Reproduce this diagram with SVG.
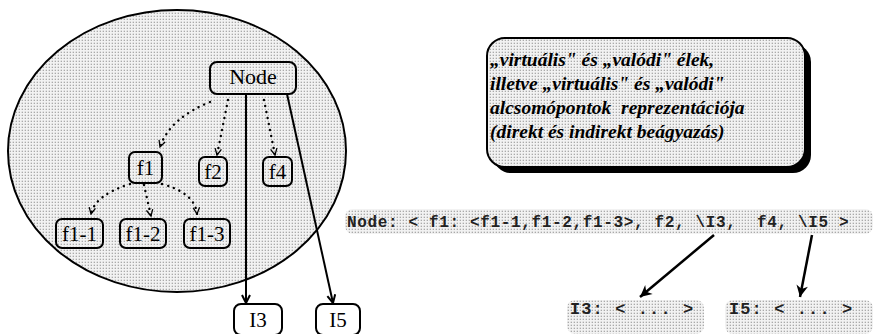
<svg xmlns="http://www.w3.org/2000/svg" width="873" height="334" viewBox="0 0 873 334">
  <defs>
    <pattern id="dots" width="3" height="3" patternUnits="userSpaceOnUse">
      <rect width="3" height="3" fill="#f2f2f2"/>
      <rect x="0.7" y="0.7" width="1.2" height="1.2" fill="#999"/>
    </pattern>
    <marker id="solid" viewBox="0 0 10 10" refX="9" refY="5" markerWidth="10" markerHeight="10" markerUnits="userSpaceOnUse" orient="auto">
      <path d="M1,1 L9,5 L1,9" fill="none" stroke="#000" stroke-width="2"/>
    </marker>
    <marker id="open" viewBox="0 0 10 10" refX="9" refY="5" markerWidth="8" markerHeight="8" markerUnits="userSpaceOnUse" orient="auto">
      <path d="M1,1 L9,5 L1,9" fill="none" stroke="#000" stroke-width="1.6"/>
    </marker>
    <marker id="big" viewBox="0 0 12 12" refX="11" refY="6" markerWidth="14" markerHeight="14" markerUnits="userSpaceOnUse" orient="auto">
      <path d="M1,1 L11,6 L1,11 L4,6 Z" fill="#000"/>
    </marker>
  </defs>
  <style>
    .box { fill: url(#dots); stroke: #000; stroke-width: 2; }
    .wbox { fill: #fff; stroke: #000; stroke-width: 2; }
    .lbl { font-family: "Liberation Serif", serif; font-size: 21px; text-anchor: middle; fill: #000; }
    .code { font-family: "Liberation Mono", monospace; font-size: 16px; font-weight: bold; fill: #222; letter-spacing: 0.65px; white-space: pre; }
    .code2 { font-family: "Liberation Mono", monospace; font-size: 17px; font-weight: bold; fill: #222; letter-spacing: 1.1px; white-space: pre; }
    .note { font-family: "Liberation Serif", serif; font-size: 19.5px; font-weight: bold; font-style: italic; fill: #000; white-space: pre; }
    .dot { fill: none; stroke: #000; stroke-width: 2.4; stroke-dasharray: 0.1 6; stroke-linecap: round; }
    .edge { fill: none; stroke: #000; stroke-width: 2; }
    .edge2 { fill: none; stroke: #000; stroke-width: 2.5; }
  </style>

  <!-- enclosing region -->
  <ellipse cx="177" cy="151" rx="169" ry="141" fill="url(#dots)" stroke="#000" stroke-width="2"/>

  <!-- tree nodes -->
  <g id="node-root"><rect class="box" x="210" y="62" width="86" height="32" rx="7"/><text class="lbl" x="253" y="84" style="font-size:22px">Node</text></g>
  <g id="node-f1"><rect class="box" x="129" y="152" width="33" height="31" rx="6"/><text class="lbl" x="145.5" y="175">f1</text></g>
  <g id="node-f2"><rect class="box" x="199" y="157" width="28" height="29" rx="6"/><text class="lbl" x="213" y="179">f2</text></g>
  <g id="node-f4"><rect class="box" x="263" y="157" width="29" height="29" rx="6"/><text class="lbl" x="277.5" y="179">f4</text></g>
  <g id="node-f1-1"><rect class="box" x="56" y="219" width="47" height="29" rx="6"/><text class="lbl" x="79.5" y="241">f1-1</text></g>
  <g id="node-f1-2"><rect class="box" x="120" y="219" width="46" height="29" rx="6"/><text class="lbl" x="143" y="241">f1-2</text></g>
  <g id="node-f1-3"><rect class="box" x="184" y="219" width="46" height="29" rx="6"/><text class="lbl" x="207" y="241">f1-3</text></g>
  <g id="node-I3"><rect class="wbox" x="234" y="304" width="48" height="31" rx="7"/><text class="lbl" x="258" y="327">I3</text></g>
  <g id="node-I5"><rect class="wbox" x="316" y="304" width="44" height="31" rx="7"/><text class="lbl" x="338" y="327">I5</text></g>

  <!-- note box with drop shadow -->
  <g id="note">
    <rect x="493" y="44" width="318" height="129" rx="18" fill="#000"/>
    <rect class="box" x="487" y="38" width="318" height="129" rx="18"/>
    <text class="note" x="490" y="66">„virtuális" és „valódi" élek,</text>
    <text class="note" x="490" y="90">illetve „virtuális" és „valódi"</text>
    <text class="note" x="490" y="114">alcsomópontok  reprezentációja</text>
    <text class="note" x="490" y="138">(direkt és indirekt beágyazás)</text>
  </g>

  <!-- textual representation -->
  <g id="code-node">
    <rect x="345" y="209" width="528" height="25" rx="8" fill="url(#dots)"/>
    <text class="code" x="347" y="227" xml:space="preserve">Node: &lt; f1: &lt;f1-1,f1-2,f1-3&gt;, f2, \I3,  f4, \I5 &gt;</text>
  </g>
  <g id="code-I3">
    <rect x="567" y="300" width="137" height="34" rx="8" fill="url(#dots)"/>
    <text class="code2" x="570" y="314" xml:space="preserve">I3: &lt; ... &gt;</text>
  </g>
  <g id="code-I5">
    <rect x="725" y="300" width="148" height="34" rx="8" fill="url(#dots)"/>
    <text class="code2" x="729" y="314" xml:space="preserve">I5: &lt; ... &gt;</text>
  </g>

  <!-- connectors -->
  <g id="connectors">
    <path class="dot" d="M210,102 Q170,118 160,147" marker-end="url(#open)"/>
    <path class="dot" d="M228,100 L217,155" marker-end="url(#open)"/>
    <path class="dot" d="M264,100 L275,155" marker-end="url(#open)"/>
    <path class="dot" d="M130,184 Q95,195 91,214" marker-end="url(#open)"/>
    <path class="dot" d="M144,185 L151,216" marker-end="url(#open)"/>
    <path class="dot" d="M162,184 Q195,193 197,214" marker-end="url(#open)"/>
    <path class="edge" d="M246,94 L246,303" marker-end="url(#solid)"/>
    <path class="edge" d="M287,94 L333,303" marker-end="url(#solid)"/>
    <path class="edge2" d="M714,235 L640,297" marker-end="url(#big)"/>
    <path class="edge2" d="M812,235 L800,297" marker-end="url(#big)"/>
  </g>
</svg>
